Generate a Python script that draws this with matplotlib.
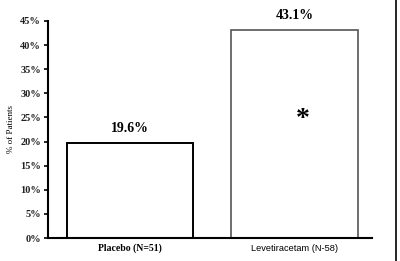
import matplotlib
matplotlib.use("Agg")
import matplotlib.pyplot as plt
from matplotlib.lines import Line2D

groups = ["Placebo (N=51)", "Levetiracetam (N-58)"]
pct = [19.6, 43.1]
value_labels = ["19.6%", "43.1%"]
yticks = [0, 5, 10, 15, 20, 25, 30, 35, 40, 45]

serif = ["Liberation Serif", "DejaVu Serif"]
sans = ["Liberation Sans", "DejaVu Sans"]

fig = plt.figure(figsize=(4.0, 2.61), dpi=100)
ax = fig.add_axes([0.12, 0.088, 0.81, 0.832])

xpos = [0, 1]
bars = ax.bar(xpos, pct, width=0.77, color="white")
bars[0].set_edgecolor("black")
bars[0].set_linewidth(1.4)
bars[1].set_edgecolor("#555555")
bars[1].set_linewidth(1.2)

for x, v, lab in zip(xpos, pct, value_labels):
    ax.annotate(lab, (x, v), xytext=(0, 6), textcoords="offset points",
                ha="center", va="bottom", fontsize=10, fontweight="bold",
                family=serif)

# significance marker
ax.text(1.05, 24.5, "*", ha="center", va="center", fontsize=20,
        fontweight="bold", family=serif)

ax.set_xlim(-0.498, 1.471)
ax.set_ylim(0, 45)
ax.set_yticks(yticks)
ax.set_yticklabels([f"{t}%" for t in yticks], fontsize=7.5,
                   fontweight="bold", family=serif, color="#222222")
ax.set_xticks(xpos)
ax.set_xticklabels(groups)
tl = ax.get_xticklabels()
tl[0].set_family(serif)
tl[0].set_fontweight("bold")
tl[0].set_fontsize(7)
tl[1].set_family(sans)
tl[1].set_fontsize(6.7)
ax.tick_params(axis="x", length=0, pad=4)
ax.tick_params(axis="y", length=3, width=1.2, pad=2)

ax.spines["top"].set_visible(False)
ax.spines["right"].set_visible(False)
ax.spines["left"].set_linewidth(1.5)
ax.spines["bottom"].set_linewidth(1.5)

ax.set_ylabel("% of Patients", fontsize=6.5, family=serif, labelpad=4)

# right edge border
fig.add_artist(Line2D([0.989, 0.989], [0, 1], color="black", lw=1.2,
                      transform=fig.transFigure))

fig.savefig("out.png", dpi=100)
